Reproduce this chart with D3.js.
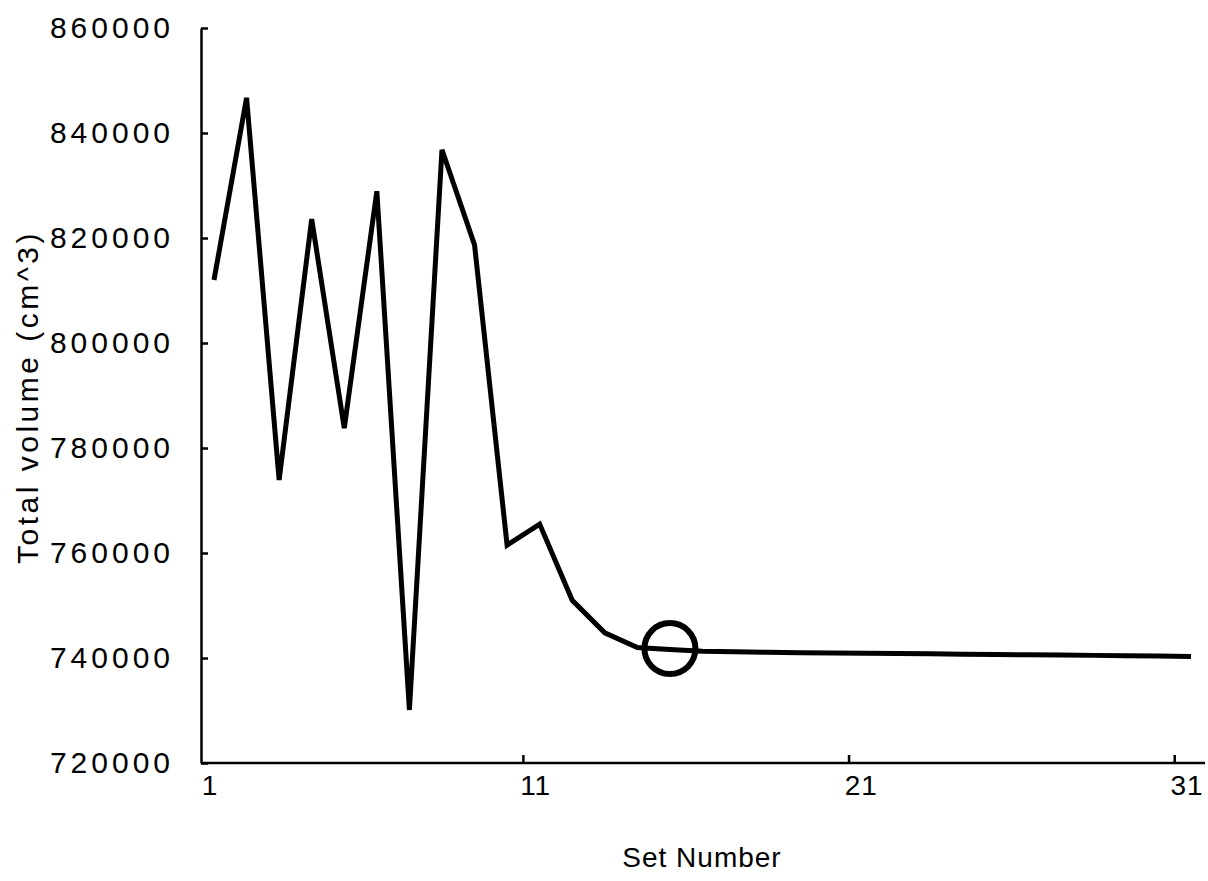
<!DOCTYPE html>
<html>
  <head>
    <meta charset="utf-8">
    <title>Total volume by set number</title>
    <script src="https://cdn.jsdelivr.net/npm/d3@7"></script>
    <style>
      body { margin: 0; background: #fff; }
      svg { display: block; font-family: "Liberation Sans", Arial, sans-serif; }
      .axis path, .axis line { stroke: #000; stroke-width: 2.5; }
      .axis text { fill: #000; }
    </style>
  </head>
  <body>
    <div id="chart"></div>
    <script>
      // data
      var setNumbers = [1, 2, 3, 4, 5, 6, 7, 8, 9, 10, 11, 12, 13, 14, 15, 16,
        17, 18, 19, 20, 21, 22, 23, 24, 25, 26, 27, 28, 29, 30, 31];
      var totalVolume = [812000, 846700, 773900, 823600, 783800, 828900, 730100,
        836800, 818700, 761500, 765500, 751000, 744800, 742000, 741600, 741300,
        741200, 741100, 741000, 740950, 740900, 740850, 740800, 740700, 740650,
        740600, 740550, 740500, 740450, 740400, 740300];
      var yTicks = [720000, 740000, 760000, 780000, 800000, 820000, 840000, 860000];
      var xTicks = [1, 11, 21, 31];
      var xTickMarks = [10.5, 20.5, 30.5];
      var highlightSet = 15;

      var width = 1208, height = 881;
      var svg = d3.select("#chart").append("svg")
        .attr("width", width)
        .attr("height", height);

      // scales
      var x = d3.scaleLinear().domain([1, 31]).range([214, 1191]);
      var y = d3.scaleLinear().domain([720000, 860000]).range([763, 28]);
      var axisX = 201;

      // y axis, ticks pointing inward
      var gy = svg.append("g")
        .attr("class", "axis")
        .attr("transform", "translate(" + axisX + ",0)")
        .call(d3.axisLeft(y)
          .tickValues(yTicks)
          .tickSize(-7)
          .tickSizeOuter(0)
          .tickPadding(27)
          .tickFormat(d3.format("d")));
      gy.selectAll("text")
        .style("font-size", "30px")
        .style("letter-spacing", "4px");

      // x axis line and boundary tick marks
      svg.append("line")
        .attr("class", "axis")
        .attr("x1", axisX).attr("x2", 1205)
        .attr("y1", y(720000)).attr("y2", y(720000))
        .style("stroke", "#000").style("stroke-width", 2.5);
      svg.append("g")
        .attr("class", "axis")
        .selectAll("line")
        .data(xTickMarks)
        .enter().append("line")
          .attr("x1", function(d) { return x(d); })
          .attr("x2", function(d) { return x(d); })
          .attr("y1", y(720000))
          .attr("y2", y(720000) - 8);

      // x tick labels
      svg.append("g")
        .selectAll("text")
        .data(xTicks)
        .enter().append("text")
          .attr("x", function(d) { return x(d) - 4; })
          .attr("y", 795)
          .attr("text-anchor", "middle")
          .style("font-size", "28px")
          .style("letter-spacing", "1px")
          .text(function(d) { return d; });

      // axis titles
      svg.append("text")
        .attr("x", 702)
        .attr("y", 867)
        .attr("text-anchor", "middle")
        .style("font-size", "28px")
        .style("letter-spacing", "1px")
        .text("Set Number");
      svg.append("text")
        .attr("transform", "translate(38,397) rotate(-90)")
        .attr("text-anchor", "middle")
        .style("font-size", "30px")
        .style("letter-spacing", "3.5px")
        .text("Total volume (cm^3)");

      // the line
      var line = d3.line()
        .x(function(d, i) { return x(setNumbers[i]); })
        .y(function(d) { return y(d); });
      svg.append("path")
        .datum(totalVolume)
        .attr("d", line)
        .style("fill", "none")
        .style("stroke", "#000")
        .style("stroke-width", 5)
        .style("stroke-linejoin", "miter");

      // circled point
      var hi = setNumbers.indexOf(highlightSet);
      svg.append("circle")
        .attr("cx", x(highlightSet))
        .attr("cy", y(totalVolume[hi]) - 1)
        .attr("r", 25.5)
        .style("fill", "none")
        .style("stroke", "#000")
        .style("stroke-width", 6);
    </script>
  </body>
</html>
